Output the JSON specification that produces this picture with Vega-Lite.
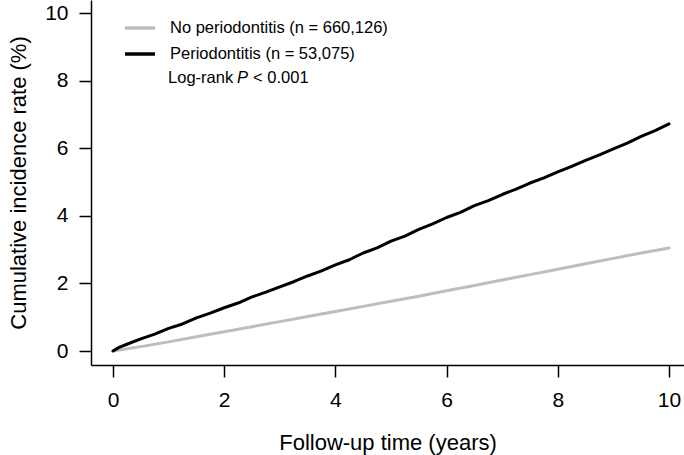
{
  "$schema": "https://vega.github.io/schema/vega-lite/v6.json",
  "width": 593,
  "height": 365,
  "autosize": {"type": "none"},
  "padding": {"left": 91, "top": 0, "right": 0, "bottom": 90},
  "background": "white",
  "config": {
    "view": {"stroke": null},
    "font": "Liberation Sans",
    "axis": {
      "grid": false,
      "domainColor": "black",
      "domainWidth": 1.5,
      "tickColor": "black",
      "tickWidth": 1.5,
      "tickSize": 12,
      "labelFont": "Liberation Sans",
      "labelFontSize": 21,
      "labelColor": "black",
      "titleFont": "Liberation Sans",
      "titleFontSize": 22,
      "titleFontWeight": "normal",
      "titleColor": "black"
    },
    "legend": {
      "orient": "none",
      "legendX": 32,
      "legendY": 11,
      "symbolType": "stroke",
      "symbolSize": 900,
      "symbolStrokeWidth": 3.5,
      "labelFont": "Liberation Sans",
      "labelFontSize": 16.5,
      "labelColor": "black",
      "labelOffset": 13,
      "labelLimit": 0,
      "rowPadding": -11,
      "padding": 0
    }
  },
  "datasets": {
    "curves": [
      {"group": "No periodontitis (n = 660,126)", "t": 0, "rate": 0},
      {"group": "No periodontitis (n = 660,126)", "t": 0.5, "rate": 0.13},
      {"group": "No periodontitis (n = 660,126)", "t": 1, "rate": 0.27},
      {"group": "No periodontitis (n = 660,126)", "t": 1.5, "rate": 0.42},
      {"group": "No periodontitis (n = 660,126)", "t": 2, "rate": 0.57},
      {"group": "No periodontitis (n = 660,126)", "t": 2.5, "rate": 0.72},
      {"group": "No periodontitis (n = 660,126)", "t": 3, "rate": 0.87},
      {"group": "No periodontitis (n = 660,126)", "t": 3.5, "rate": 1.02},
      {"group": "No periodontitis (n = 660,126)", "t": 4, "rate": 1.17},
      {"group": "No periodontitis (n = 660,126)", "t": 4.5, "rate": 1.32},
      {"group": "No periodontitis (n = 660,126)", "t": 5, "rate": 1.47},
      {"group": "No periodontitis (n = 660,126)", "t": 5.5, "rate": 1.62},
      {"group": "No periodontitis (n = 660,126)", "t": 6, "rate": 1.78},
      {"group": "No periodontitis (n = 660,126)", "t": 6.5, "rate": 1.94},
      {"group": "No periodontitis (n = 660,126)", "t": 7, "rate": 2.1},
      {"group": "No periodontitis (n = 660,126)", "t": 7.5, "rate": 2.26},
      {"group": "No periodontitis (n = 660,126)", "t": 8, "rate": 2.42},
      {"group": "No periodontitis (n = 660,126)", "t": 8.5, "rate": 2.58},
      {"group": "No periodontitis (n = 660,126)", "t": 9, "rate": 2.74},
      {"group": "No periodontitis (n = 660,126)", "t": 9.5, "rate": 2.9},
      {"group": "No periodontitis (n = 660,126)", "t": 10, "rate": 3.05},
      {"group": "Periodontitis (n = 53,075)", "t": 0, "rate": 0},
      {"group": "Periodontitis (n = 53,075)", "t": 0.1, "rate": 0.1},
      {"group": "Periodontitis (n = 53,075)", "t": 0.25, "rate": 0.2},
      {"group": "Periodontitis (n = 53,075)", "t": 0.5, "rate": 0.36},
      {"group": "Periodontitis (n = 53,075)", "t": 0.75, "rate": 0.5},
      {"group": "Periodontitis (n = 53,075)", "t": 1, "rate": 0.67},
      {"group": "Periodontitis (n = 53,075)", "t": 1.25, "rate": 0.8},
      {"group": "Periodontitis (n = 53,075)", "t": 1.5, "rate": 0.98},
      {"group": "Periodontitis (n = 53,075)", "t": 1.75, "rate": 1.12},
      {"group": "Periodontitis (n = 53,075)", "t": 2, "rate": 1.28},
      {"group": "Periodontitis (n = 53,075)", "t": 2.25, "rate": 1.42},
      {"group": "Periodontitis (n = 53,075)", "t": 2.5, "rate": 1.6},
      {"group": "Periodontitis (n = 53,075)", "t": 2.75, "rate": 1.74},
      {"group": "Periodontitis (n = 53,075)", "t": 3, "rate": 1.9},
      {"group": "Periodontitis (n = 53,075)", "t": 3.25, "rate": 2.05},
      {"group": "Periodontitis (n = 53,075)", "t": 3.5, "rate": 2.22},
      {"group": "Periodontitis (n = 53,075)", "t": 3.75, "rate": 2.37},
      {"group": "Periodontitis (n = 53,075)", "t": 4, "rate": 2.55},
      {"group": "Periodontitis (n = 53,075)", "t": 4.25, "rate": 2.7},
      {"group": "Periodontitis (n = 53,075)", "t": 4.5, "rate": 2.9},
      {"group": "Periodontitis (n = 53,075)", "t": 4.75, "rate": 3.05},
      {"group": "Periodontitis (n = 53,075)", "t": 5, "rate": 3.25},
      {"group": "Periodontitis (n = 53,075)", "t": 5.25, "rate": 3.4},
      {"group": "Periodontitis (n = 53,075)", "t": 5.5, "rate": 3.6},
      {"group": "Periodontitis (n = 53,075)", "t": 5.75, "rate": 3.76},
      {"group": "Periodontitis (n = 53,075)", "t": 6, "rate": 3.95},
      {"group": "Periodontitis (n = 53,075)", "t": 6.25, "rate": 4.1},
      {"group": "Periodontitis (n = 53,075)", "t": 6.5, "rate": 4.3},
      {"group": "Periodontitis (n = 53,075)", "t": 6.75, "rate": 4.45},
      {"group": "Periodontitis (n = 53,075)", "t": 7, "rate": 4.63},
      {"group": "Periodontitis (n = 53,075)", "t": 7.25, "rate": 4.79},
      {"group": "Periodontitis (n = 53,075)", "t": 7.5, "rate": 4.97},
      {"group": "Periodontitis (n = 53,075)", "t": 7.75, "rate": 5.12},
      {"group": "Periodontitis (n = 53,075)", "t": 8, "rate": 5.3},
      {"group": "Periodontitis (n = 53,075)", "t": 8.25, "rate": 5.46},
      {"group": "Periodontitis (n = 53,075)", "t": 8.5, "rate": 5.64},
      {"group": "Periodontitis (n = 53,075)", "t": 8.75, "rate": 5.8},
      {"group": "Periodontitis (n = 53,075)", "t": 9, "rate": 5.98},
      {"group": "Periodontitis (n = 53,075)", "t": 9.25, "rate": 6.15},
      {"group": "Periodontitis (n = 53,075)", "t": 9.5, "rate": 6.35},
      {"group": "Periodontitis (n = 53,075)", "t": 9.75, "rate": 6.52},
      {"group": "Periodontitis (n = 53,075)", "t": 10, "rate": 6.72}
    ],
    "notes": [
      {"t": 0.99, "rate": 8.08, "label": "Log-rank", "italic": false},
      {"t": 2.23, "rate": 8.08, "label": "P", "italic": true},
      {"t": 2.52, "rate": 8.08, "label": "< 0.001", "italic": false}
    ]
  },
  "layer": [
    {
      "data": {"name": "curves"},
      "mark": {"type": "line", "strokeWidth": 3, "strokeCap": "round", "strokeJoin": "round"},
      "encoding": {
        "x": {
          "field": "t",
          "type": "quantitative",
          "scale": {"domain": [-0.396, 10.27], "nice": false, "zero": false},
          "axis": {"values": [0, 2, 4, 6, 8, 10], "title": "Follow-up time (years)", "labelPadding": 12, "titlePadding": 22}
        },
        "y": {
          "field": "rate",
          "type": "quantitative",
          "scale": {"domain": [-0.414, 10.385], "nice": false, "zero": false},
          "axis": {"values": [0, 2, 4, 6, 8, 10], "title": "Cumulative incidence rate (%)", "labelPadding": 11, "titlePadding": 14}
        },
        "color": {
          "field": "group",
          "type": "nominal",
          "scale": {"domain": ["No periodontitis (n = 660,126)", "Periodontitis (n = 53,075)"], "range": ["#bdbdbd", "#000000"]},
          "legend": {"title": null}
        },
        "order": {"field": "t", "type": "quantitative"}
      }
    },
    {
      "data": {"name": "notes"},
      "transform": [{"filter": "!datum.italic"}],
      "mark": {"type": "text", "align": "left", "baseline": "middle", "fontSize": 16.5, "font": "Liberation Sans", "color": "black"},
      "encoding": {
        "x": {"field": "t", "type": "quantitative"},
        "y": {"field": "rate", "type": "quantitative"},
        "text": {"field": "label"}
      }
    },
    {
      "data": {"name": "notes"},
      "transform": [{"filter": "datum.italic"}],
      "mark": {"type": "text", "align": "left", "baseline": "middle", "fontSize": 16.5, "font": "Liberation Sans", "fontStyle": "italic", "color": "black"},
      "encoding": {
        "x": {"field": "t", "type": "quantitative"},
        "y": {"field": "rate", "type": "quantitative"},
        "text": {"field": "label"}
      }
    }
  ]
}
